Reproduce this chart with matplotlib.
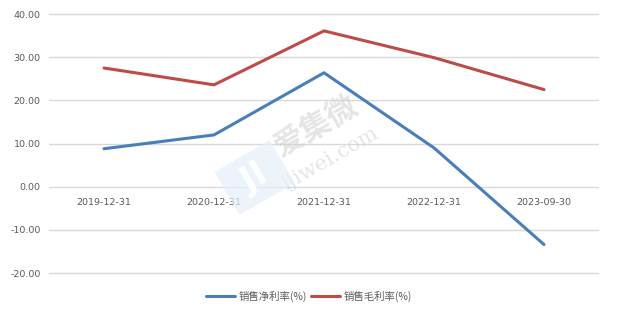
import matplotlib
matplotlib.use("Agg")
import matplotlib.pyplot as plt

plt.rcParams['font.family'] = ['Noto Sans CJK SC', 'DejaVu Sans']

# 数据
dates = ["2019-12-31", "2020-12-31", "2021-12-31", "2022-12-31", "2023-09-30"]
net_margin = [8.8, 12.0, 26.4, 9.0, -13.4]     # 销售净利率(%)
gross_margin = [27.5, 23.6, 36.1, 29.9, 22.5]  # 销售毛利率(%)
y_ticks = [-20, -10, 0, 10, 20, 30, 40]

fig = plt.figure(figsize=(6.18, 3.17), dpi=100)
# 上下各留 0.5 个单位，免得 -20 / 40 的网格线被裁掉
ax = fig.add_axes([49 / 618, 1 - 275.2 / 317, 550 / 618, 263.3 / 317])

x = list(range(len(dates)))
ax.plot(x, net_margin, color="#4A7EBB", lw=2.2, label="销售净利率(%)", solid_capstyle="round")
ax.plot(x, gross_margin, color="#BE4B48", lw=2.2, label="销售毛利率(%)", solid_capstyle="round")

ax.set_xlim(-0.5, len(dates) - 0.5)
ax.set_ylim(-20.5, 40.5)
ax.set_yticks(y_ticks)
ax.set_yticklabels([f"{v:.2f}" for v in y_ticks], color="#595959", fontsize=6.8,
                   family="DejaVu Sans")
ax.grid(axis="y", color="#D9D9D9", lw=1)
ax.set_axisbelow(True)

# 类别轴放在 0 处
ax.spines['bottom'].set_position(('data', 0))
for s in ["top", "right", "left", "bottom"]:
    ax.spines[s].set_visible(False)
ax.set_xticks(x)
ax.set_xticklabels(dates, color="#595959", fontsize=6.8, family="DejaVu Sans")
ax.tick_params(axis="x", length=0, pad=8)
ax.tick_params(axis="y", length=0, pad=6)

# 水印
fig.text(0.51, 0.6, "爱集微", fontsize=22, color="#D0D0D0", alpha=0.55,
         rotation=30, ha="center", va="center", weight="bold")
fig.text(0.535, 0.5, "ijiwei.com", fontsize=15, color="#D0D0D0", alpha=0.55,
         rotation=30, ha="center", va="center", family="DejaVu Serif")
fig.text(0.412, 0.44, " Jl ", fontsize=24, color="white", rotation=30,
         ha="center", va="center", weight="bold", family="DejaVu Sans",
         bbox=dict(facecolor="#E6EEFA", edgecolor="none", alpha=0.7, pad=6))

ax.legend(loc="center", bbox_to_anchor=(0.5, 0.065), bbox_transform=fig.transFigure,
          ncol=2, frameon=False, fontsize=7.5, handlelength=2.8, columnspacing=0.4,
          handletextpad=0.3, labelcolor="#595959")

fig.savefig("out.png", dpi=100, facecolor="white")
